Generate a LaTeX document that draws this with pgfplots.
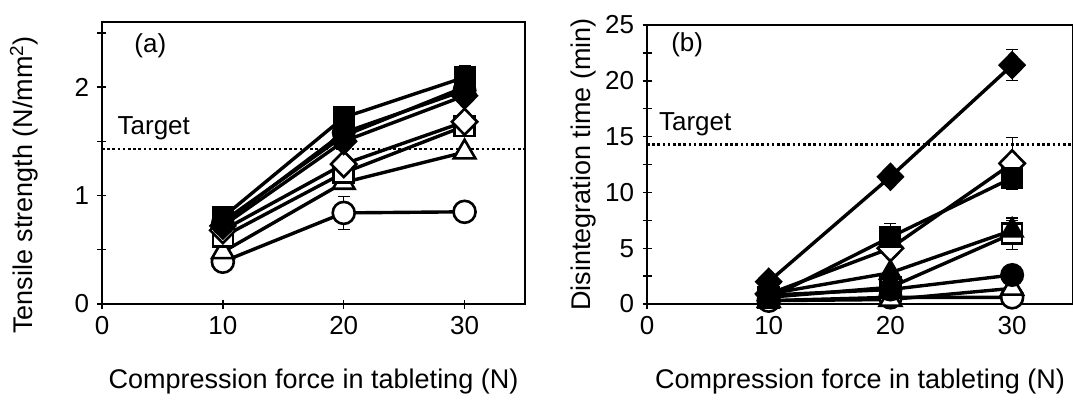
\documentclass[border=0pt]{standalone}
\usepackage{fontspec}
\setmainfont{Liberation Sans}
\usepackage{pgfplots}
\pgfplotsset{compat=1.18}
\begin{document}
\begin{tikzpicture}[x=1pt,y=1pt]
\pgfplotsset{
  common/.style={
    scale only axis, xmin=0, xmax=35, xtick={0,10,20,30},
    tick align=center, xtick pos=bottom, ytick pos=left,
    major tick length=9pt, minor tick length=9pt,
    axis line style={line width=1.8pt},
    every tick/.style={black, line width=1.4pt},
    tick label style={font=\fontsize{26}{30}\selectfont},
    xticklabel style={yshift=-4pt},
    yticklabel style={xshift=-5pt},
    label style={font=\fontsize{27}{32}\selectfont},
    /pgf/number format/assume math mode=true,
    clip=false,
    xlabel={Compression force in tableting (N)},
    xlabel style={yshift=-28pt},
    every axis plot/.append style={line width=3.4pt, black,
      error bars/y dir=both, error bars/y explicit,
      error bars/error bar style={line width=1.2pt, black},
      error bars/error mark options={rotate=90, mark size=6pt, line width=1.2pt, black}},
  },
  target/.style={line width=2.6pt, dash pattern=on 2.6pt off 2.6pt},
  fsq/.style={mark=square*, mark size=10pt, mark options={fill=black, line width=2pt, solid}},
  osq/.style={mark=square*, mark size=10pt, mark options={fill=white, line width=2.6pt, solid}},
  fdi/.style={mark=diamond*, mark size=13pt, mark options={fill=black, xscale=1.3, line width=2pt, solid}},
  odi/.style={mark=diamond*, mark size=13pt, mark options={fill=white, xscale=1.3, line width=2.6pt, solid}},
  ftr/.style={mark=triangle*, mark size=12.5pt, mark options={fill=black, line width=2pt, solid}},
  otr/.style={mark=triangle*, mark size=12.5pt, mark options={fill=white, line width=2.6pt, solid}},
  fci/.style={mark=*, mark size=11pt, mark options={fill=black, line width=2pt, solid}},
  oci/.style={mark=*, mark size=11pt, mark options={fill=white, line width=2.6pt, solid}},
}
\path[use as bounding box] (-102pt,-96pt) rectangle (971pt,304pt);
% Panel (a)
\begin{axis}[common, at={(0pt,0pt)}, anchor=origin, width=423pt, height=282pt,
  ymin=0, ymax=2.6, ytick={0,1,2}, minor ytick={0.5,1.5,2.5},
  ylabel={Tensile strength (N/mm\textsuperscript{2})},
  ylabel style={yshift=30pt, xshift=-22pt}]
\addplot[target] coordinates {(0,1.43) (35,1.43)};
\node[anchor=west, font=\fontsize{26}{30}\selectfont] at (axis cs:1.0,1.62) {Target};
\node[font=\fontsize{26}{30}\selectfont] at (axis cs:4.0,2.38) {(a)};
\addplot[oci] coordinates {(10,0.39) (20,0.84) +- (0,0.15) (30,0.85) +- (0,0.08)};
\addplot[otr] coordinates {(10,0.48) (20,1.12) (30,1.40)};
\addplot[osq] coordinates {(10,0.62) (20,1.21) (30,1.64) +- (0,0.05)};
\addplot[odi] coordinates {(10,0.68) (20,1.29) +- (0,0.07) (30,1.68)};
\addplot[fci] coordinates {(10,0.74) (20,1.58) (30,1.97)};
\addplot[ftr] coordinates {(10,0.76) (20,1.55) (30,2.00)};
\addplot[fdi] coordinates {(10,0.72) (20,1.50) (30,1.92)};
\addplot[fsq] coordinates {(10,0.80) (20,1.72) (30,2.09) +- (0,0.11)};
\end{axis}
% Panel (b)
\begin{axis}[common, at={(545pt,0pt)}, anchor=origin, width=426pt, height=279pt,
  ymin=0, ymax=25, ytick={0,5,...,25}, minor ytick={2.5,7.5,...,22.5},
  ylabel={Disintegration time (min)},
  ylabel style={yshift=2pt}]
\addplot[target] coordinates {(0,14.3) (35,14.3)};
\node[anchor=west, font=\fontsize{26}{30}\selectfont] at (axis cs:0.7,16.1) {Target};
\node[font=\fontsize{26}{30}\selectfont] at (axis cs:3.3,23.2) {(b)};
\addplot[oci] coordinates {(10,0.3) (20,0.6) (30,0.6)};
\addplot[otr] coordinates {(10,0.3) (20,0.4) (30,1.4)};
\addplot[osq] coordinates {(10,0.6) (20,1.5) (30,6.3) +- (0,1.4)};
\addplot[odi] coordinates {(10,0.9) (20,5.0) (30,12.6) +- (0,2.3)};
\addplot[fci] coordinates {(10,0.8) (20,1.3) (30,2.6)};
\addplot[ftr] coordinates {(10,0.9) (20,2.8) (30,6.6) +- (0,0.9)};
\addplot[fdi] coordinates {(10,2.0) (20,11.4) (30,21.4) +- (0,1.4)};
\addplot[fsq] coordinates {(10,0.5) (20,6.0) +- (0,1.2) (30,11.3)};
\end{axis}
\end{tikzpicture}
\end{document}
